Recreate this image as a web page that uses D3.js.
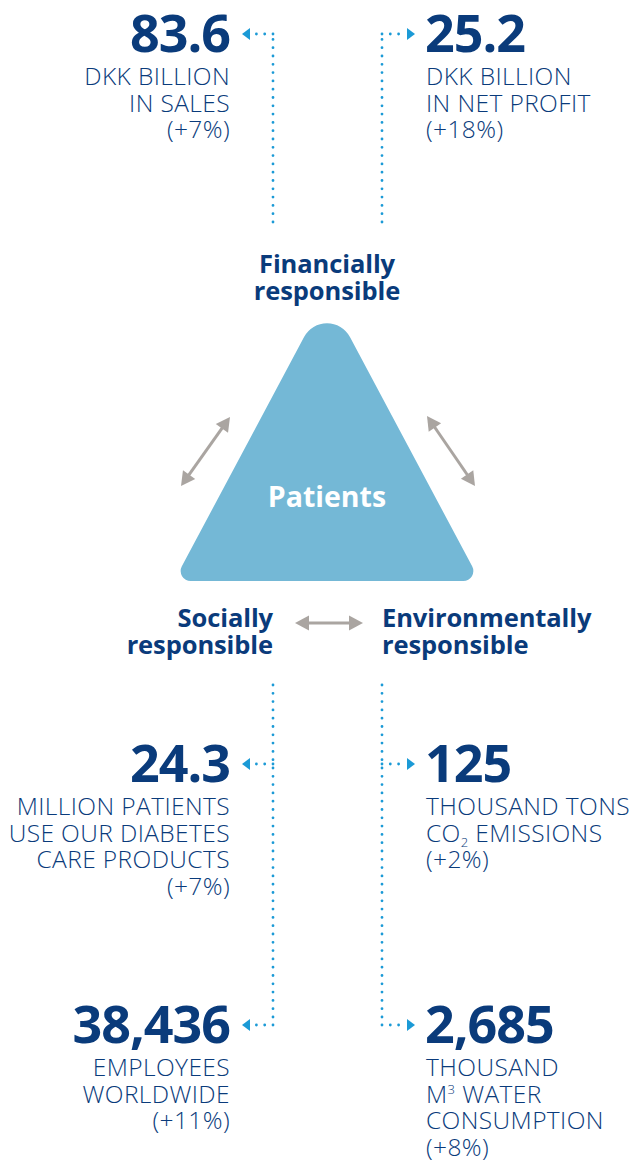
<!DOCTYPE html>
<html>
<head>
<meta charset="utf-8">
<script src="https://cdn.jsdelivr.net/npm/d3@7"></script>
<style>
html, body { margin: 0; padding: 0; background: #fff; }
svg { display: block; font-family: "Open Sans", sans-serif; }
</style>
</head>
<body>
<div id="chartContainer"></div>
<script>
// key figures (value, unit lines, change vs last year)
var kpiValues = ["83.6", "25.2", "24.3", "125", "38,436", "2,685"];
var kpiLabels = [
	["DKK BILLION", "IN SALES"],
	["DKK BILLION", "IN NET PROFIT"],
	["MILLION PATIENTS", "USE OUR DIABETES", "CARE PRODUCTS"],
	["THOUSAND TONS", "CO_2 EMISSIONS"],
	["EMPLOYEES", "WORLDWIDE"],
	["THOUSAND", "M^3 WATER", "CONSUMPTION"]
];
var kpiChanges = ["+7%", "+18%", "+7%", "+2%", "+11%", "+8%"];
var pillarNames = ["Financially", "Socially", "Environmentally"];
var pillarSuffix = "responsible";
var centreLabel = "Patients";

Chart = {
	width : 641,
	height : 1160,
	navy : "#0a3b7b",
	blue : "#1b9ad6",
	grey : "#aaa5a1",
	teal : "#74b8d6",
	leftEdge : 230, // right edge of the left column texts
	rightEdge : 425, // left edge of the right column texts
	trunkLeft : 273, // dotted trunk x
	trunkRight : 382,
	lineHeight : 26.5,

	drawChart : function(){
		$chart = d3.select("#chartContainer").append("svg")
			.attr("width", Chart.width)
			.attr("height", Chart.height);

		this.drawTriangle($chart);
		this.drawGreyArrows($chart);
		this.drawPillars($chart);
		this.drawConnectors($chart);
		this.drawKpis($chart);
	},

	// slot of each key figure: column and baseline of the big number
	slots : function(){
		var col = d3.scaleOrdinal().domain([0, 1]).range(["left", "right"]);
		var row = d3.scaleOrdinal().domain([0, 1, 2]).range([52, 782, 1043]);
		return kpiValues.map(function(v, i){
			return { side : col(i % 2), y : row(Math.floor(i / 2)) };
		});
	},

	drawTriangle : function(chart){
		var A = [327, 294], B = [480, 581], C = [174, 581];
		var p = d3.path();
		p.moveTo((A[0] + B[0]) / 2, (A[1] + B[1]) / 2);
		p.arcTo(B[0], B[1], C[0], C[1], 10);
		p.arcTo(C[0], C[1], A[0], A[1], 10);
		p.arcTo(A[0], A[1], B[0], B[1], 26);
		p.closePath();

		chart.append("path")
			.attr("d", p.toString())
			.style("fill", Chart.teal);

		chart.append("text")
			.attr("x", 327)
			.attr("y", 507)
			.attr("text-anchor", "middle")
			.style("font-size", "28.5px")
			.style("font-weight", 700)
			.style("fill", "#fff")
			.text(centreLabel);
	},

	drawGreyArrows : function(chart){
		var arrows = [
			[[181, 486], [230, 417]],
			[[427, 416], [475, 486]],
			[[295, 623], [363, 623]]
		];
		var g = chart.append("g").attr("class", "grey-arrows");
		arrows.forEach(function(a){
			var dx = a[1][0] - a[0][0], dy = a[1][1] - a[0][1];
			var len = Math.sqrt(dx * dx + dy * dy), ux = dx / len, uy = dy / len;
			var head = 14, half = 7.5;
			g.append("line")
				.attr("x1", a[0][0] + ux * head * 0.8)
				.attr("y1", a[0][1] + uy * head * 0.8)
				.attr("x2", a[1][0] - ux * head * 0.8)
				.attr("y2", a[1][1] - uy * head * 0.8)
				.style("stroke", Chart.grey)
				.style("stroke-width", 3);
			[[a[1], 1], [a[0], -1]].forEach(function(e){
				var tx = e[0][0], ty = e[0][1], sx = ux * e[1], sy = uy * e[1];
				var bx = tx - sx * head, by = ty - sy * head;
				g.append("path")
					.attr("d", "M" + tx + "," + ty +
						"L" + (bx - sy * half) + "," + (by + sx * half) +
						"L" + (bx + sy * half) + "," + (by - sx * half) + "Z")
					.style("fill", Chart.grey);
			});
		});
	},

	drawPillars : function(chart){
		var pos = [
			{ x : 327, y : 273, anchor : "middle" },
			{ x : 273, y : 627, anchor : "end" },
			{ x : 382, y : 627, anchor : "start" }
		];
		var g = chart.append("g").attr("class", "pillars");
		pillarNames.forEach(function(name, i){
			[name, pillarSuffix].forEach(function(line, j){
				g.append("text")
					.attr("x", pos[i].x)
					.attr("y", pos[i].y + j * 27)
					.attr("text-anchor", pos[i].anchor)
					.style("font-size", "25.5px")
					.style("font-weight", 700)
					.style("letter-spacing", "-0.1px")
					.style("fill", Chart.navy)
					.text(line);
			});
		});
	},

	drawConnectors : function(chart){
		var slots = this.slots();
		var g = chart.append("g").attr("class", "connectors");
		var dotted = function(d){
			g.append("path")
				.attr("d", d)
				.style("fill", "none")
				.style("stroke", Chart.blue)
				.style("stroke-width", 2.8)
				.style("stroke-linecap", "round")
				.style("stroke-dasharray", "0 8.3");
		};
		// trunks
		dotted("M" + Chart.trunkLeft + ",222V35");
		dotted("M" + Chart.trunkRight + ",222V35");
		dotted("M" + Chart.trunkLeft + ",685V" + (slots[4].y - 18));
		dotted("M" + Chart.trunkRight + ",685V" + (slots[5].y - 18));

		slots.forEach(function(s){
			var y = s.y - 18;
			var left = s.side == "left";
			var trunk = left ? Chart.trunkLeft : Chart.trunkRight;
			var tip = left ? 242 : 415;
			var dir = left ? -1 : 1;
			dotted("M" + trunk + "," + y + "H" + (tip - dir * 12));
			g.append("path")
				.attr("d", "M" + tip + "," + y + "L" + (tip - dir * 8) + "," + (y - 6) +
					"L" + (tip - dir * 8) + "," + (y + 6) + "Z")
				.style("fill", Chart.blue);
		});
	},

	drawKpis : function(chart){
		var slots = this.slots();
		var g = chart.append("g").attr("class", "kpis");
		kpiValues.forEach(function(v, i){
			var s = slots[i];
			var x = s.side == "left" ? Chart.leftEdge : Chart.rightEdge;
			var anchor = s.side == "left" ? "end" : "start";

			g.append("text")
				.attr("x", x)
				.attr("y", s.y)
				.attr("text-anchor", anchor)
				.style("font-size", "52px")
				.style("font-weight", 700)
				.style("letter-spacing", "-1px")
				.style("fill", Chart.navy)
				.text(v);

			var lines = kpiLabels[i].concat(["(" + kpiChanges[i] + ")"]);
			lines.forEach(function(line, j){
				var t = g.append("text")
					.attr("x", x + (s.side == "left" ? 0 : 1))
					.attr("y", s.y + 33 + j * Chart.lineHeight)
					.attr("text-anchor", anchor)
					.style("font-size", "24.5px")
					.style("font-weight", 300)
					.style("letter-spacing", "0.4px")
					.style("fill", Chart.navy);
				Chart.richText(t, line);
			});
		});
	},

	// "_2" -> subscript, "^3" -> superscript
	richText : function(t, str){
		var parts = str.split(/([_^]\d)/);
		var shift = 0;
		parts.forEach(function(s){
			if(!s) return;
			if(s[0] == "_" || s[0] == "^"){
				var d = s[0] == "_" ? 5 : -9;
				t.append("tspan").attr("dy", d).style("font-size", "13px").text(s[1]);
				shift = -d;
			} else {
				t.append("tspan").attr("dy", shift).text(s);
				shift = 0;
			}
		});
	}
};

Chart.drawChart();
</script>
</body>
</html>
